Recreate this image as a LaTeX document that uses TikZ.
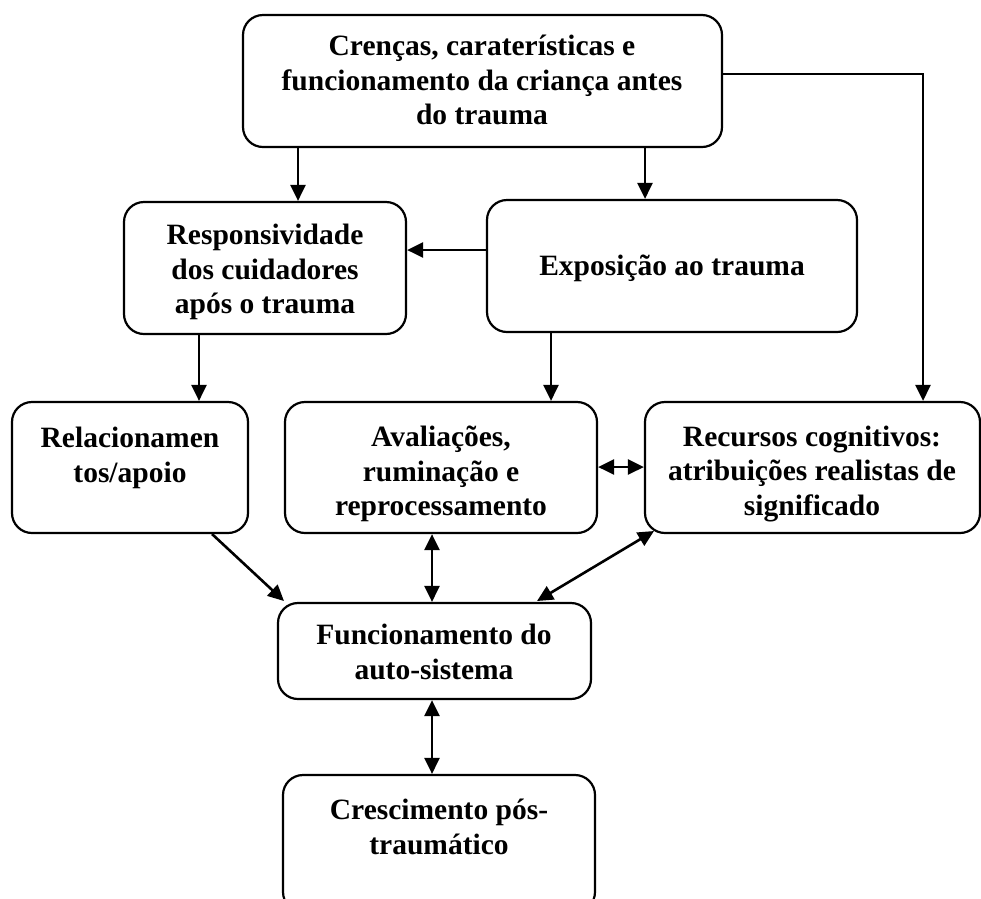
\documentclass[tikz,border=0pt]{standalone}
\usepackage{fontspec}
\setmainfont{Liberation Serif}
\usetikzlibrary{arrows.meta}
\tikzset{
  box/.style={draw, line width=2.2pt, rounded corners=20pt, inner sep=0pt},
  txt/.style={align=center, font=\fontsize{29.5}{34.5}\selectfont\bfseries, inner sep=0pt},
  tip/.tip={Triangle[length=16pt,width=15pt]},
  conn/.style={line width=2.6pt, -tip},
  dconn/.style={line width=2.6pt, tip-tip}
}
\newcommand{\mybox}[5]{%
  \path (#2,#3) coordinate (#1-nw) (#4,#5) coordinate (#1-se);
  \node[box, minimum width={(#4-#2)*1pt}, minimum height={(#5-#3)*1pt}] (#1) at ({(#2+#4)/2},{(#3+#5)/2}) {};
}
\begin{document}
\begin{tikzpicture}[x=1pt,y=-1pt]
\useasboundingbox (0,0) rectangle (981,898);
% boxes
\mybox{top}{243}{15}{722}{147}
\mybox{resp}{124}{202}{406}{334}
\mybox{expo}{487}{200}{857}{332}
\mybox{rel}{12}{402}{248}{533}
\mybox{aval}{285}{402}{597}{533}
\mybox{rec}{645}{402}{980}{533}
\mybox{func}{278}{603}{591}{699}
\mybox{cres}{283}{775}{595}{912}
% texts
\node[txt] (ttop) at (482,80) {Crenças, caraterísticas e\\funcionamento da criança antes\\do trauma};
\node[txt] (tresp) at (265,272) {Responsividade\\dos cuidadores\\após o trauma};
\node[txt] (texpo) at (672,268) {Exposição ao trauma};
\node[txt] (trel) at (130,458) {Relacionamen\\tos/apoio};
\node[txt] (taval) at (441,474) {Avaliações,\\ruminação e\\reprocessamento};
\node[txt] (trec) at (812,474) {Recursos cognitivos:\\atribuições realistas de\\significado};
\node[txt] (tfunc) at (434,652) {Funcionamento do\\auto-sistema};
\node[txt] (tcres) at (439,827) {Crescimento pós-\\traumático};
% helper coordinates
\coordinate (xa) at (298,0);
\coordinate (xb) at (645,0);
\coordinate (xc) at (551,0);
\coordinate (xd) at (923,0);
\coordinate (xe) at (199,0);
\coordinate (xf) at (432,0);
\coordinate (ya) at (0,250);
\coordinate (yb) at (0,74);
\coordinate (yc) at (0,467);
\coordinate (corner) at (923,74);
\coordinate (relout) at (212,534);
\coordinate (funcinL) at (284,601);
\coordinate (recout) at (654,531);
\coordinate (funcinR) at (537,601);
% connectors
\draw[conn] (top.south -| xa) -- (resp.north -| xa);
\draw[conn] (top.south -| xb) -- (expo.north -| xb);
\draw[conn] (expo.west |- ya) -- (resp.east |- ya);
\draw[conn] (resp.south -| xe) -- (rel.north -| xe);
\draw[conn] (expo.south -| xc) -- (aval.north -| xc);
\draw[conn] (top.east |- yb) -- (corner) -- (rec.north -| xd);
\draw[dconn] (aval.east |- yc) -- (rec.west |- yc);
\draw[conn] (relout) -- (funcinL);
\draw[dconn] (aval.south -| xf) -- (func.north -| xf);
\draw[dconn] (recout) -- (funcinR);
\draw[dconn] (func.south -| xf) -- (cres.north -| xf);
\end{tikzpicture}
\end{document}
